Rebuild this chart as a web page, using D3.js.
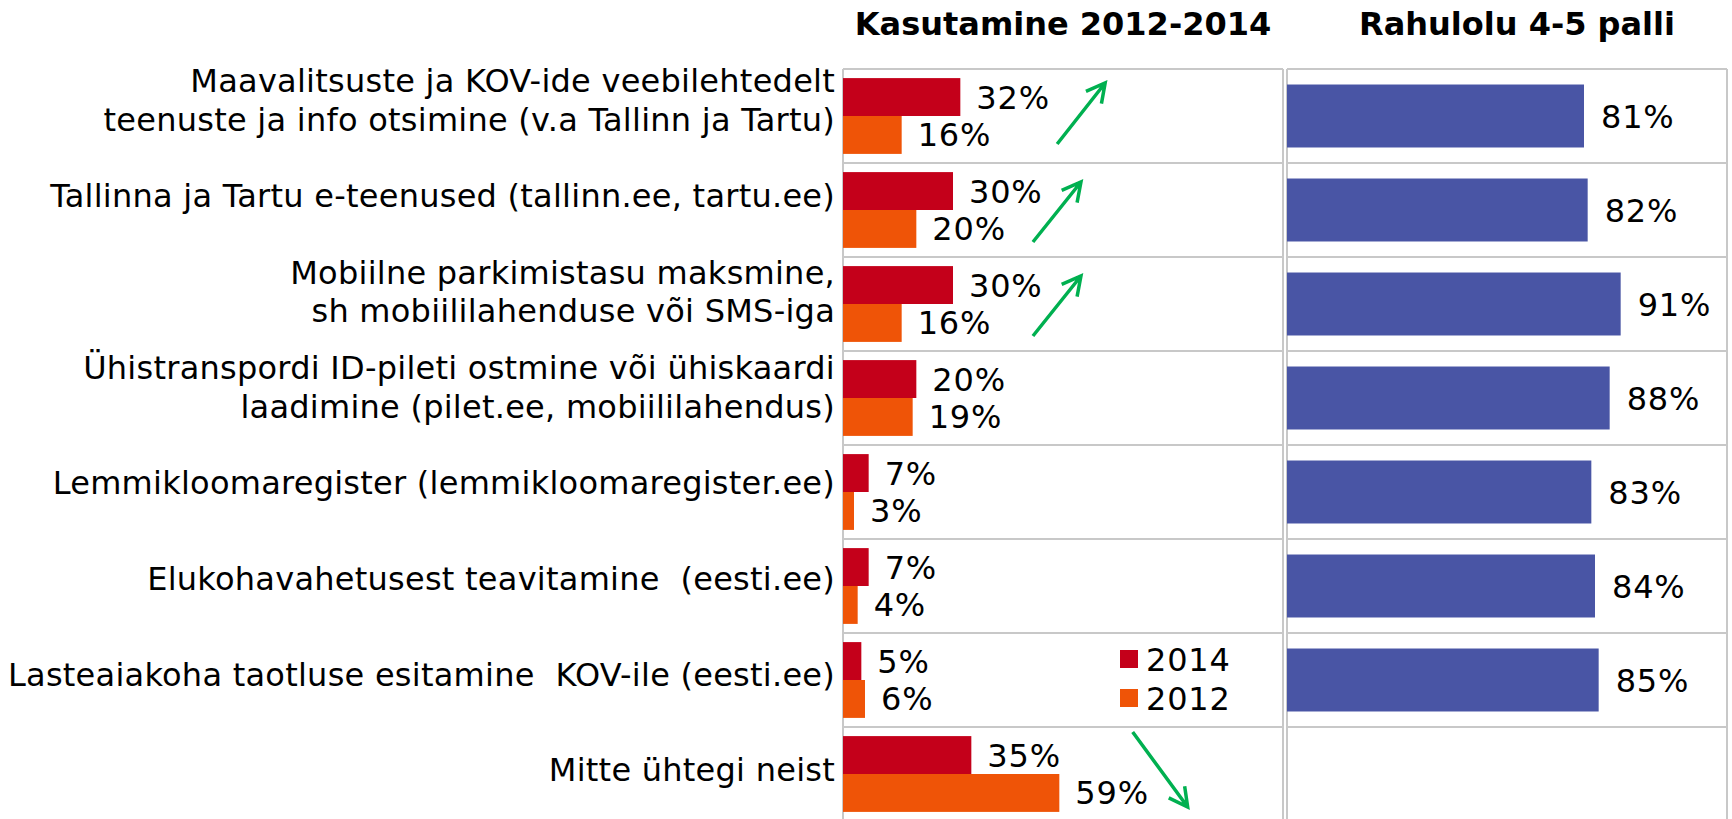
<!DOCTYPE html>
<html>
<head>
<meta charset="utf-8">
<script src="https://cdn.jsdelivr.net/npm/d3@7"></script>
<style>
  body { margin: 0; background: #fff; }
  text { font-family: "DejaVu Sans", Verdana, sans-serif; fill: #000; white-space: pre; }
</style>
</head>
<body>
<svg width="1732" height="819"></svg>
<script>
var categories = [
  ["Maavalitsuste ja KOV-ide veebilehtedelt", "teenuste ja info otsimine (v.a Tallinn ja Tartu)"],
  ["Tallinna ja Tartu e-teenused (tallinn.ee, tartu.ee)"],
  ["Mobiilne parkimistasu maksmine,", "sh mobiililahenduse või SMS-iga"],
  ["Ühistranspordi ID-pileti ostmine või ühiskaardi", "laadimine (pilet.ee, mobiililahendus)"],
  ["Lemmikloomaregister (lemmikloomaregister.ee)"],
  ["Elukohavahetusest teavitamine  (eesti.ee)"],
  ["Lasteaiakoha taotluse esitamine  KOV-ile (eesti.ee)"],
  ["Mitte ühtegi neist"]
];
var use2014 = [32, 30, 30, 20, 7, 7, 5, 35];
var use2012 = [16, 20, 16, 19, 3, 4, 6, 59];
var satisfaction = [81, 82, 91, 88, 83, 84, 85, null];
var trend = ["up", "up", "up", null, null, null, null, "down"];
var years = ["2014", "2012"];
var titles = ["Kasutamine 2012-2014", "Rahulolu 4-5 palli"];

var svg = d3.select("svg"),
  width = +svg.attr("width"),
  height = +svg.attr("height");

var colors = {"2014": "#c4001a", "2012": "#ef5407"};
var blue = "#4955a5",
  grid = "#c8c8c8",
  green = "#00b050";

var idx = d3.range(categories.length);

var x1 = d3.scaleLinear().domain([0, 120]).range([843, 1283]);
var x2 = d3.scaleLinear().domain([0, 120]).range([1287, 1727]);

var y = d3.scaleBand().domain(idx).range([69, 69 + 94 * idx.length]);
var yYear = d3.scaleBand().domain(years).range([0, y.bandwidth()]).paddingOuter(0.24);
var y2 = d3.scaleBand().domain(idx).range([69, 69 + 94 * idx.length])
  .paddingInner(0.33).paddingOuter(0.165);
// category labels sit on a slightly different grid than the plot rows
var yLab = d3.scaleBand().domain(idx).range([52.5, 52.5 + 95.7 * idx.length]);

// titles
svg.append("text")
  .attr("x", (x1.range()[0] + x1.range()[1]) / 2)
  .attr("y", 35)
  .attr("text-anchor", "middle")
  .style("font-size", "32px")
  .style("font-weight", "bold")
  .text(titles[0]);

svg.append("text")
  .attr("x", 1517)
  .attr("y", 35)
  .attr("text-anchor", "middle")
  .style("font-size", "32px")
  .style("font-weight", "bold")
  .text(titles[1]);

// panel frames
function frame(xs) {
  var g = svg.append("g");
  g.selectAll("line.h")
    .data(d3.range(idx.length + 1))
    .enter().append("line")
    .attr("x1", xs.range()[0]).attr("x2", xs.range()[1])
    .attr("y1", function(d) { return y.range()[0] + d * y.step(); })
    .attr("y2", function(d) { return y.range()[0] + d * y.step(); })
    .attr("stroke", grid).attr("stroke-width", 2);
  g.selectAll("line.v")
    .data(xs.range())
    .enter().append("line")
    .attr("x1", function(d) { return d; }).attr("x2", function(d) { return d; })
    .attr("y1", y.range()[0]).attr("y2", height)
    .attr("stroke", grid).attr("stroke-width", 2);
}
frame(x1);
frame(x2);

// category labels
var lab = svg.selectAll(".cat")
  .data(idx)
  .enter().append("text")
  .attr("class", "cat")
  .attr("text-anchor", "end")
  .style("font-size", "32px")
  .style("letter-spacing", "0.25px")
  .attr("transform", function(i) {
    return "translate(835," + (yLab(i) + yLab.bandwidth() / 2) + ")";
  });

lab.selectAll("tspan")
  .data(function(i) {
    var lines = categories[i];
    return lines.map(function(t, k) { return {t: t, k: k, n: lines.length}; });
  })
  .enter().append("tspan")
  .attr("x", 0)
  .attr("y", function(d) { return (d.k - (d.n - 1) / 2) * 38.5; })
  .attr("dy", "0.35em")
  .text(function(d) { return d.t; });

// usage bars
var rows = svg.selectAll(".row")
  .data(idx)
  .enter().append("g")
  .attr("class", "row")
  .attr("transform", function(i) { return "translate(0," + y(i) + ")"; });

var pairs = rows.selectAll(".bar")
  .data(function(i) {
    return [{year: "2014", v: use2014[i]}, {year: "2012", v: use2012[i]}];
  })
  .enter();

pairs.append("rect")
  .attr("x", x1(0))
  .attr("y", function(d) { return yYear(d.year); })
  .attr("width", function(d) { return x1(d.v) - x1(0); })
  .attr("height", yYear.bandwidth())
  .attr("fill", function(d) { return colors[d.year]; });

pairs.append("text")
  .attr("x", function(d) { return x1(d.v) + 16; })
  .attr("y", function(d) { return yYear(d.year) + yYear.bandwidth() / 2; })
  .attr("dy", "0.36em")
  .style("font-size", "32px")
  .style("letter-spacing", "0.8px")
  .text(function(d) { return d.v + "%"; });

// satisfaction bars
var sat = idx.filter(function(i) { return satisfaction[i] != null; });

svg.selectAll(".sat")
  .data(sat)
  .enter().append("rect")
  .attr("class", "sat")
  .attr("x", x2(0))
  .attr("y", function(i) { return y2(i); })
  .attr("width", function(i) { return x2(satisfaction[i]) - x2(0); })
  .attr("height", y2.bandwidth())
  .attr("fill", blue);

svg.selectAll(".satlab")
  .data(sat)
  .enter().append("text")
  .attr("class", "satlab")
  .attr("x", function(i) { return x2(satisfaction[i]) + 17; })
  .attr("y", function(i) { return y2(i) + y2.bandwidth() / 2; })
  .attr("dy", "0.36em")
  .style("font-size", "32px")
  .style("letter-spacing", "0.8px")
  .text(function(i) { return satisfaction[i] + "%"; });

// trend arrows (tail / head given as % on the usage axis and px inside the row)
function arrowPath(i) {
  var top = y(i), a, b;
  if (trend[i] == "up") {
    if (i == 0) { a = [x1(58.4), top + 75]; b = [x1(71.5), top + 14]; }
    else { a = [x1(51.8), top + 79]; b = [x1(64.9), top + 19]; }
  } else {
    a = [x1(79), top + 5]; b = [x1(94), top + 80];
  }
  var dx = a[0] - b[0], dy = a[1] - b[1], len = Math.sqrt(dx * dx + dy * dy);
  var ux = dx / len, uy = dy / len, ang = 28 * Math.PI / 180, L = 21;
  function arm(s) {
    var c = Math.cos(s * ang), sn = Math.sin(s * ang);
    return [b[0] + L * (ux * c - uy * sn), b[1] + L * (ux * sn + uy * c)];
  }
  var p1 = arm(1), p2 = arm(-1);
  return "M" + a[0] + "," + a[1] + "L" + b[0] + "," + b[1]
    + "M" + p1[0] + "," + p1[1] + "L" + b[0] + "," + b[1] + "L" + p2[0] + "," + p2[1];
}

svg.selectAll(".arrow")
  .data(idx.filter(function(i) { return trend[i]; }))
  .enter().append("path")
  .attr("class", "arrow")
  .attr("d", arrowPath)
  .attr("fill", "none")
  .attr("stroke", green)
  .attr("stroke-width", 3.5);

// legend
var leg = svg.selectAll(".leg")
  .data(years)
  .enter().append("g")
  .attr("class", "leg")
  .attr("transform", function(d, k) { return "translate(1120," + (650 + k * 39) + ")"; });

leg.append("rect")
  .attr("width", 18).attr("height", 18)
  .attr("fill", function(d) { return colors[d]; });

leg.append("text")
  .attr("x", 26).attr("y", 9)
  .attr("dy", "0.36em")
  .style("font-size", "32px")
  .style("letter-spacing", "0.8px")
  .text(function(d) { return d; });
</script>
</body>
</html>
